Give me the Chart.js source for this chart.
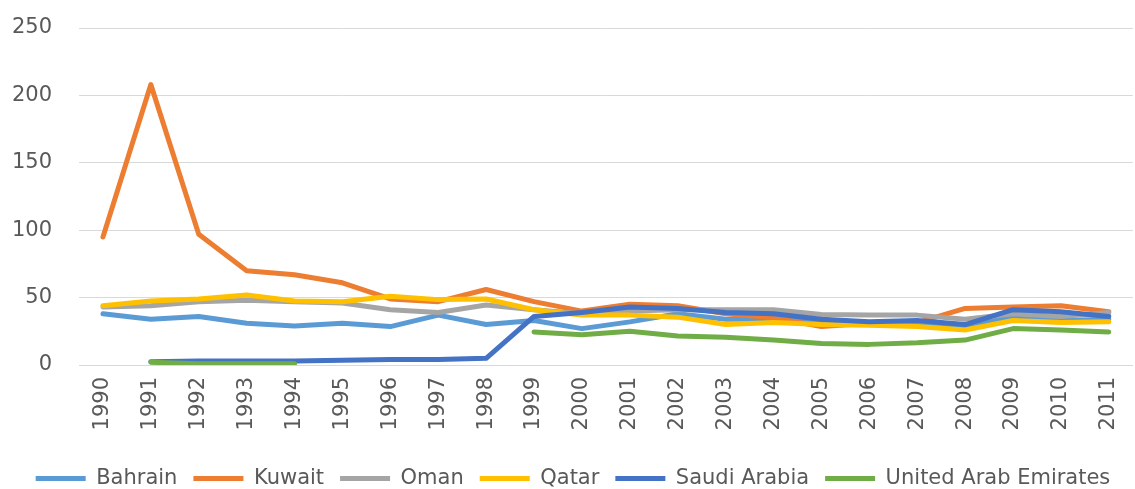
<!DOCTYPE html>
<html>
<head>
<meta charset="utf-8">
<script src="https://cdn.jsdelivr.net/npm/chart.js@4/dist/chart.umd.min.js"></script>
<style>
  html, body { margin: 0; padding: 0; background: #fff; overflow: hidden; }
  .container { width: 1146px; height: 489px; position: relative; }
</style>
</head>
<body>
<div class="container">
  <canvas id="myChart"></canvas>
</div>
<script>
const years = ['1990','1991','1992','1993','1994','1995','1996','1997','1998','1999','2000',
               '2001','2002','2003','2004','2005','2006','2007','2008','2009','2010','2011'];

const bahrain = [38, 34, 36, 31, 29, 31, 28.5, 37, 30, 33, 27, 32, 38, 34, 34, 32, 31, 31, 28, 36, 33, 34];
const kuwait  = [95, 208, 97, 70, 67, 61, 49, 47, 56, 47, 40, 45, 44, 38, 35, 28.5, 31, 31.5, 42, 43, 44, 39.5];
const oman    = [43, 44, 47, 48, 47, 46, 41, 39, 44.5, 41, 38, 40, 41, 41, 41, 37.5, 37, 37, 34, 38, 36, 39];
const qatar   = [44, 47.5, 49, 52, 47.5, 47, 51, 48.5, 49, 41, 37, 37, 35.5, 30, 31.5, 30, 29.5, 28.5, 26, 33, 31.5, 32];
const saudi   = [null, 2.5, 3, 3, 3, 3.5, 4, 4, 5, 36, 39, 43, 42, 39, 38, 34, 32, 33, 30, 41, 39.5, 36];
const uae     = [null, 2, 1, 1, 1, null, null, null, null, 24.5, 22.5, 25, 21.5, 20.5, 18.5, 16, 15.3, 16.5, 18.5, 27, 26, 24.5];

const yTicks = [0, 50, 100, 150, 200, 250];

const names  = ['Bahrain', 'Kuwait', 'Oman', 'Qatar', 'Saudi Arabia', 'United Arab Emirates'];
const series = [bahrain, kuwait, oman, qatar, saudi, uae];
const colors = ['#5B9BD5', '#ED7D31', '#A5A5A5', '#FFC000', '#4472C4', '#70AD47'];

const textColor = '#595959';
const fontFamily = "'DejaVu Sans', 'Noto Sans', sans-serif";

const data = {
  labels: years,
  datasets: names.map((n, i) => ({
    label: n,
    data: series[i],
    borderColor: colors[i],
    backgroundColor: colors[i],
    borderWidth: 5,
    borderCapStyle: 'round',
    borderJoinStyle: 'round',
    pointRadius: 0,
    tension: 0,
    spanGaps: false,
    order: names.length - i
  }))
};

const config = {
  type: 'line',
  data: data,
  options: {
    responsive: true,
    maintainAspectRatio: false,
    animation: false,
    layout: { padding: { top: 28, left: 0, right: 0, bottom: -10 } },
    plugins: {
      tooltip: { enabled: false },
      legend: {
        position: 'bottom',
        labels: {
          usePointStyle: true,
          pointStyle: 'line',
          pointStyleWidth: 50,
          boxHeight: 5,
          color: textColor,
          padding: 16,
          font: { family: fontFamily, size: 21 },
          sort: (a, b) => a.datasetIndex - b.datasetIndex
        }
      }
    },
    scales: {
      x: {
        offset: true,
        grid: { display: false, drawTicks: false },
        border: { display: true, color: '#d9d9d9', width: 1 },
        ticks: {
          color: textColor,
          font: { family: fontFamily, size: 21 },
          minRotation: 90,
          maxRotation: 90,
          autoSkip: false,
          padding: 12
        },
        afterFit: (scale) => { scale.height = 87; }
      },
      y: {
        min: 0,
        max: 250,
        afterBuildTicks: (scale) => { scale.ticks = yTicks.map(v => ({ value: v })); },
        grid: { color: '#d9d9d9', lineWidth: 1, drawTicks: false },
        border: { display: false },
        ticks: {
          color: textColor,
          font: { family: fontFamily, size: 21 },
          padding: 27
        },
        afterFit: (scale) => {
          scale.width = 79;
          scale.paddingTop = 0;
          scale.paddingBottom = 0;
        }
      }
    }
  }
};

const ctx = document.getElementById('myChart');
const myChart = new Chart(ctx, config);
</script>
</body>
</html>
